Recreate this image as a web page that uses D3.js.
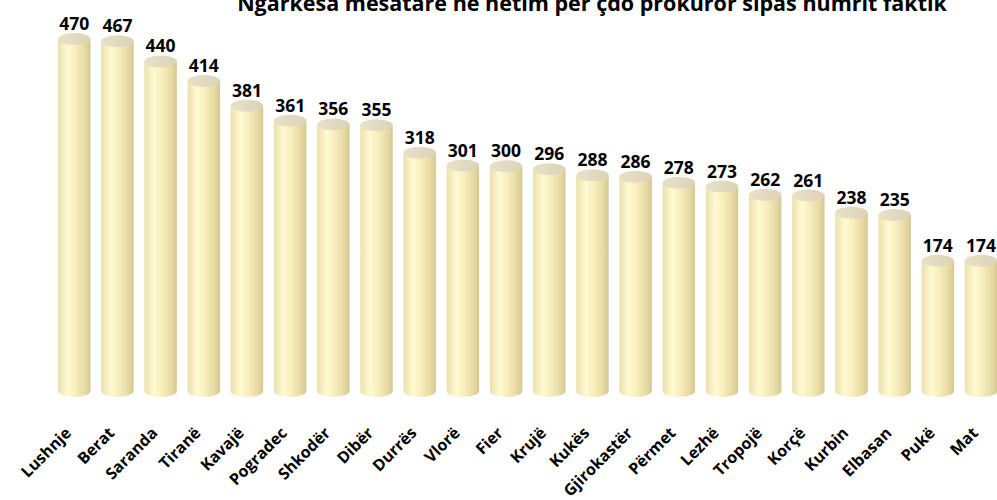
<!DOCTYPE html>
<html>
<head>
<meta charset="utf-8">
<script src="https://cdn.jsdelivr.net/npm/d3@7"></script>
<style>
  body { margin: 0; background: #ffffff; }
</style>
</head>
<body>
<div id="chart"></div>
<script>
const categories = ['Lushnje', 'Berat', 'Saranda', 'Tiranë', 'Kavajë', 'Pogradec', 'Shkodër', 'Dibër',
  'Durrës', 'Vlorë', 'Fier', 'Krujë', 'Kukës', 'Gjirokastër', 'Përmet', 'Lezhë', 'Tropojë', 'Korçë',
  'Kurbin', 'Elbasan', 'Pukë', 'Mat']
const values = [470, 467, 440, 414, 381, 361, 356, 355, 318, 301, 300, 296, 288, 286, 278, 273, 262, 261,
  238, 235, 174, 174]
const title = 'Ngarkesa mesatare në hetim për çdo prokuror sipas numrit faktik'

const W = 997
const H = 500
const RY = 6

const svg = d3.select('#chart').append('svg').attr('width', W).attr('height', H)

svg.append('rect').attr('width', W).attr('height', H).attr('fill', '#ffffff')

const defs = svg.append('defs')
const bodyGrad = defs.append('linearGradient').attr('id', 'body').attr('x1', 0).attr('x2', 1).attr('y1', 0).attr('y2', 0)
bodyGrad.append('stop').attr('offset', '0%').attr('stop-color', '#ebe0ad')
bodyGrad.append('stop').attr('offset', '30%').attr('stop-color', '#fffad2')
bodyGrad.append('stop').attr('offset', '55%').attr('stop-color', '#f8eebb')
bodyGrad.append('stop').attr('offset', '85%').attr('stop-color', '#e5d8a2')
bodyGrad.append('stop').attr('offset', '100%').attr('stop-color', '#d5c791')

const capGrad = defs.append('linearGradient').attr('id', 'cap').attr('x1', 0).attr('x2', 1).attr('y1', 0).attr('y2', 0)
capGrad.append('stop').attr('offset', '0%').attr('stop-color', '#e8e1c9')
capGrad.append('stop').attr('offset', '100%').attr('stop-color', '#dcd3b8')

const x = d3.scaleBand().domain(categories).range([47.3, 1008]).padding(0.248)
const y = d3.scaleLinear().domain([0, 470]).range([391, 39])

const bw = x.bandwidth()

const bars = svg.append('g')
  .selectAll('g')
  .data(categories.map((c, i) => ({ c, v: values[i] })))
  .join('g')

bars.append('path')
  .attr('d', (d) => {
    const x0 = x(d.c)
    const x1 = x0 + bw
    const yt = y(d.v)
    const yb = y(0)
    return `M${x0},${yt} L${x0},${yb} A${bw / 2},${RY} 0 0 0 ${x1},${yb} L${x1},${yt} Z`
  })
  .attr('fill', 'url(#body)')

bars.append('ellipse')
  .attr('cx', (d) => x(d.c) + bw / 2)
  .attr('cy', (d) => y(d.v))
  .attr('rx', bw / 2)
  .attr('ry', RY)
  .attr('fill', 'url(#cap)')

bars.append('text')
  .attr('x', (d) => x(d.c) + bw / 2)
  .attr('y', (d) => y(d.v) - 9)
  .attr('text-anchor', 'middle')
  .attr('font-family', 'Open Sans')
  .attr('font-weight', 'bold')
  .attr('font-size', 17.5)
  .attr('fill', '#000000')
  .text((d) => d.v)

// rotated category labels
svg.append('g')
  .selectAll('text')
  .data(categories)
  .join('text')
  .attr('transform', (d) => `translate(${x(d) + bw / 2 - 2}, 434) rotate(-45)`)
  .attr('text-anchor', 'end')
  .attr('font-family', 'Open Sans')
  .attr('font-weight', 'bold')
  .attr('font-size', 16)
  .attr('fill', '#000000')
  .text((d) => d)

svg.append('text')
  .attr('x', 592)
  .attr('y', 11)
  .attr('text-anchor', 'middle')
  .attr('font-family', 'Open Sans')
  .attr('font-weight', 'bold')
  .attr('font-size', 21.5)
  .attr('fill', '#000000')
  .text(title)
</script>
</body>
</html>
